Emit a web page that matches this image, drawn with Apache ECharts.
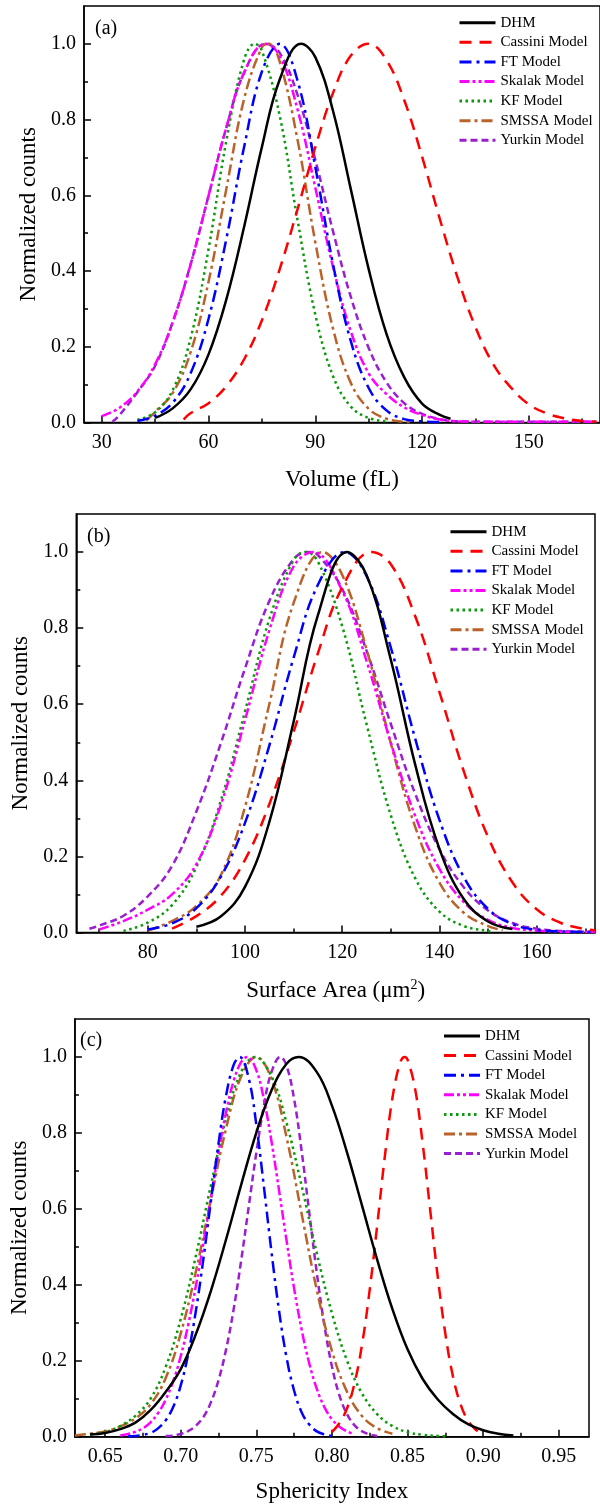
<!DOCTYPE html>
<html>
<head>
<meta charset="utf-8">
<script src="https://cdn.jsdelivr.net/npm/echarts@6/dist/echarts.min.js"></script>
<style>
  html, body { margin: 0; padding: 0; background: #fff; }
  #chart { width: 600px; height: 1508px; }
</style>
</head>
<body>
<div id="chart"></div>
<script>
var FONT = '"Liberation Serif", "Times New Roman", serif';

var seriesNames = ['DHM', 'Cassini Model', 'FT Model', 'Skalak Model', 'KF Model', 'SMSSA Model', 'Yurkin Model'];

// (a) Volume (fL)
var volDHM = [[45,0.012],[50,0.038],[55,0.088],[60,0.18],[65,0.325],[70,0.517],[75,0.728],[80,0.906],[86,1.0],[90,0.965],[95,0.822],[100,0.615],[105,0.405],[110,0.234],[115,0.119],[120,0.05],[125,0.02],[128,0.01]];
var volCassini = [[53,0.008],[55,0.025],[60,0.051],[65,0.096],[70,0.167],[75,0.27],[80,0.405],[85,0.563],[90,0.727],[95,0.871],[100,0.969],[105,1.0],[110,0.957],[115,0.851],[120,0.702],[125,0.537],[130,0.382],[135,0.252],[140,0.154],[145,0.092],[150,0.048],[155,0.024],[160,0.011],[165,0.004],[169,0.002]];
var volFT = [[40,0.004],[45,0.018],[50,0.053],[55,0.131],[60,0.274],[65,0.485],[70,0.728],[75,0.927],[80,1.0],[85,0.903],[90,0.675],[95,0.417],[100,0.214],[105,0.091],[110,0.032],[115,0.009],[120,0.003],[125,0.001]];
var volSkalak = [[30,0.017],[35,0.039],[40,0.082],[45,0.154],[50,0.267],[55,0.419],[60,0.599],[65,0.779],[70,0.924],[76,1.0],[80,0.968],[85,0.827],[90,0.62],[95,0.41],[100,0.24],[105,0.13],[110,0.075],[115,0.04],[120,0.02],[125,0.008],[130,0.003],[140,0.002],[169,0.002]];
var volKF = [[40,0.007],[45,0.027],[50,0.087],[55,0.224],[60,0.458],[65,0.744],[70,0.959],[73,1.0],[75,0.982],[80,0.81],[85,0.535],[90,0.285],[95,0.122],[100,0.042],[105,0.012],[110,0.003]];
var volSMSSA = [[42.5,0.005],[45,0.028],[50,0.079],[55,0.187],[60,0.372],[65,0.617],[70,0.855],[75,0.991],[77,1.0],[80,0.953],[85,0.747],[90,0.476],[95,0.247],[100,0.104],[105,0.036],[110,0.01],[115,0.002],[117,0.001]];
var volYurkin = [[33,0.002],[35,0.02],[40,0.08],[45,0.15],[50,0.267],[55,0.419],[60,0.599],[65,0.779],[70,0.924],[76,1.0],[80,0.976],[85,0.865],[90,0.694],[95,0.504],[100,0.331],[105,0.197],[110,0.106],[115,0.051],[120,0.023],[125,0.009],[130,0.003],[140,0.002],[169,0.002]];

// (b) Surface Area (um^2)
var saDHM = [[90,0.015],[95,0.042],[100,0.12],[105,0.29],[110,0.554],[115,0.834],[121,1.0],[125,0.94],[130,0.717],[135,0.442],[140,0.22],[145,0.088],[150,0.029],[155,0.009]];
var saCassini = [[85,0.01],[90,0.043],[95,0.096],[100,0.191],[105,0.337],[110,0.527],[115,0.734],[120,0.907],[126,1.0],[130,0.968],[135,0.832],[140,0.632],[145,0.424],[150,0.251],[155,0.132],[160,0.061],[165,0.025],[170,0.009],[172,0.006]];
var saFT = [[80,0.008],[85,0.024],[90,0.064],[95,0.146],[100,0.288],[105,0.491],[110,0.722],[115,0.914],[120.5,1.0],[125,0.937],[130,0.749],[135,0.51],[140,0.296],[145,0.146],[150,0.062],[155,0.022],[160,0.007],[165,0.003],[172,0.001]];
var saSkalak = [[70,0.008],[75,0.03],[80,0.06],[85,0.1],[90,0.18],[95,0.334],[100,0.558],[105,0.794],[110,0.962],[114,1.0],[120,0.898],[125,0.714],[130,0.499],[135,0.307],[140,0.167],[145,0.08],[150,0.033],[155,0.012],[160,0.005],[165,0.002],[172,0.001]];
var saKF = [[75,0.004],[80,0.026],[85,0.072],[90,0.172],[95,0.345],[100,0.581],[105,0.823],[110,0.979],[112.5,1.0],[115,0.975],[120,0.805],[125,0.548],[130,0.308],[135,0.143],[140,0.055],[145,0.017],[150,0.004],[151,0.002]];
var saSMSSA = [[80,0.005],[85,0.03],[90,0.07],[95,0.15],[100,0.33],[105,0.6],[110,0.866],[116,1.0],[120,0.94],[125,0.745],[130,0.497],[135,0.278],[140,0.131],[145,0.052],[150,0.017],[153,0.006]];
var saYurkin = [[68,0.01],[70,0.018],[75,0.044],[80,0.095],[85,0.175],[90,0.318],[95,0.496],[100,0.694],[105,0.871],[110,0.981],[113,1.0],[115,0.992],[120,0.903],[125,0.741],[130,0.548],[135,0.365],[140,0.219],[145,0.119],[150,0.058],[155,0.025],[160,0.01],[165,0.004],[172,0.002]];

// (c) Sphericity Index
var siDHM = [[0.64,0.006],[0.65,0.01],[0.66,0.02],[0.67,0.037],[0.68,0.07],[0.69,0.118],[0.70,0.178],[0.71,0.27],[0.72,0.385],[0.73,0.52],[0.74,0.664],[0.75,0.801],[0.76,0.912],[0.77,0.982],[0.778,1.0],[0.79,0.96],[0.80,0.872],[0.81,0.748],[0.82,0.607],[0.83,0.465],[0.84,0.336],[0.85,0.23],[0.86,0.152],[0.87,0.098],[0.88,0.06],[0.89,0.033],[0.90,0.017],[0.91,0.008],[0.92,0.003]];
var siCassini = [[0.80,0.012],[0.805,0.036],[0.81,0.075],[0.815,0.142],[0.82,0.245],[0.825,0.388],[0.83,0.559],[0.835,0.739],[0.84,0.892],[0.845,0.984],[0.848,1.0],[0.85,0.993],[0.855,0.916],[0.86,0.772],[0.865,0.596],[0.87,0.42],[0.875,0.271],[0.88,0.159],[0.885,0.086],[0.89,0.042],[0.895,0.019],[0.90,0.005]];
var siFT = [[0.665,0.001],[0.67,0.002],[0.675,0.005],[0.68,0.01],[0.685,0.022],[0.69,0.043],[0.695,0.078],[0.70,0.135],[0.705,0.219],[0.71,0.331],[0.715,0.469],[0.72,0.622],[0.725,0.773],[0.73,0.899],[0.735,0.979],[0.739,1.0],[0.745,0.943],[0.75,0.821],[0.755,0.658],[0.76,0.487],[0.765,0.332],[0.77,0.208],[0.775,0.121],[0.78,0.064],[0.785,0.032],[0.79,0.014],[0.795,0.006],[0.80,0.002]];
var siSkalak = [[0.66,0.003],[0.665,0.007],[0.67,0.013],[0.675,0.022],[0.68,0.038],[0.685,0.062],[0.69,0.097],[0.695,0.146],[0.70,0.212],[0.705,0.296],[0.71,0.397],[0.715,0.51],[0.72,0.631],[0.725,0.749],[0.73,0.855],[0.735,0.937],[0.74,0.987],[0.744,1.0],[0.75,0.965],[0.755,0.888],[0.76,0.778],[0.765,0.649],[0.77,0.516],[0.775,0.39],[0.78,0.281],[0.785,0.193],[0.79,0.126],[0.795,0.078],[0.80,0.046],[0.805,0.026],[0.81,0.014],[0.815,0.006]];
var siKF = [[0.64,0.006],[0.65,0.012],[0.66,0.028],[0.67,0.055],[0.68,0.1],[0.69,0.183],[0.70,0.31],[0.71,0.476],[0.72,0.663],[0.73,0.838],[0.74,0.961],[0.749,1.0],[0.76,0.949],[0.77,0.826],[0.78,0.66],[0.79,0.483],[0.80,0.325],[0.81,0.2],[0.82,0.113],[0.83,0.059],[0.84,0.028],[0.85,0.012],[0.86,0.005],[0.87,0.002],[0.877,0.001]];
var siSMSSA = [[0.63,0.003],[0.64,0.008],[0.65,0.014],[0.66,0.027],[0.67,0.048],[0.68,0.085],[0.69,0.154],[0.70,0.272],[0.71,0.435],[0.72,0.626],[0.73,0.812],[0.74,0.949],[0.75,1.0],[0.76,0.942],[0.77,0.788],[0.78,0.586],[0.79,0.386],[0.80,0.226],[0.81,0.118],[0.82,0.054],[0.83,0.022],[0.84,0.008]];
var siYurkin = [[0.69,0.002],[0.695,0.003],[0.70,0.007],[0.705,0.015],[0.71,0.029],[0.715,0.052],[0.72,0.091],[0.725,0.149],[0.73,0.23],[0.735,0.336],[0.74,0.465],[0.745,0.607],[0.75,0.748],[0.755,0.872],[0.76,0.96],[0.766,1.0],[0.77,0.977],[0.775,0.889],[0.78,0.751],[0.785,0.59],[0.79,0.431],[0.795,0.293],[0.80,0.185],[0.805,0.108],[0.81,0.059],[0.815,0.03],[0.82,0.014],[0.825,0.006],[0.83,0.002]];

// ticks
var volTicks = [30, 60, 90, 120, 150];
var volMinor = [45, 75, 105, 135, 165];
var saTicks = [80, 100, 120, 140, 160];
var saMinor = [70, 90, 110, 130, 150, 170];
var siTicks = [0.65, 0.70, 0.75, 0.80, 0.85, 0.90, 0.95];
var siMinor = [0.675, 0.725, 0.775, 0.825, 0.875, 0.925];
var countTicks = [0, 0.2, 0.4, 0.6, 0.8, 1.0];
var countMinor = [0.1, 0.3, 0.5, 0.7, 0.9];

var colors = ['#000000', '#ff0000', '#0000ff', '#ff00ff', '#0a9a0a', '#b9632a', '#9a1fd0'];
var dashes = ['solid', [12, 8], [12, 5, 3, 5], [10, 3, 3, 3, 3, 3], [2.5, 3.5], [11, 4, 3, 4], [7, 4]];

var chart = echarts.init(document.getElementById('chart'), null, { renderer: 'canvas' });

function xPair(gi, min, max, ticks, minor, digits, name, gap, rich) {
  return [{
    type: 'value', gridIndex: gi, min: min, max: max, position: 'bottom',
    axisLine: { onZero: false, lineStyle: { color: '#000', width: 1.5 } },
    axisTick: { inside: true, length: 7, customValues: ticks, lineStyle: { color: '#000', width: 1.5 } },
    axisLabel: { customValues: ticks, margin: 10, color: '#000', fontFamily: FONT, fontSize: 20,
      formatter: function (v) { return v.toFixed(digits); } },
    splitLine: { show: false },
    name: name, nameLocation: 'middle', nameGap: gap,
    nameTextStyle: { color: '#000', fontFamily: FONT, fontSize: 23, rich: rich || {} }
  }, {
    type: 'value', gridIndex: gi, min: min, max: max, position: 'bottom',
    axisLine: { show: false },
    axisTick: { inside: true, length: 4, customValues: minor, lineStyle: { color: '#000', width: 1.5 } },
    axisLabel: { show: false },
    splitLine: { show: false }
  }];
}

function yPair(gi, gap) {
  return [{
    type: 'value', gridIndex: gi, min: 0, max: 1.1, position: 'left',
    axisLine: { onZero: false, lineStyle: { color: '#000', width: 1.5 } },
    axisTick: { inside: true, length: 7, customValues: countTicks, lineStyle: { color: '#000', width: 1.5 } },
    axisLabel: { customValues: countTicks, margin: 8, color: '#000', fontFamily: FONT, fontSize: 20,
      formatter: function (v) { return v.toFixed(1); } },
    splitLine: { show: false },
    name: 'Normalized counts', nameLocation: 'middle', nameGap: gap,
    nameTextStyle: { color: '#000', fontFamily: FONT, fontSize: 23 }
  }, {
    type: 'value', gridIndex: gi, min: 0, max: 1.1, position: 'left',
    axisLine: { show: false },
    axisTick: { inside: true, length: 4, customValues: countMinor, lineStyle: { color: '#000', width: 1.5 } },
    axisLabel: { show: false },
    splitLine: { show: false }
  }];
}

function makeSeries(list, axisIdx) {
  return list.map(function (d, i) {
    return {
      name: seriesNames[i], type: 'line', data: d,
      xAxisIndex: axisIdx, yAxisIndex: axisIdx,
      smooth: 0.4, symbol: 'none', silent: true, animation: false,
      lineStyle: { color: colors[i], width: 2.5, type: dashes[i] },
      itemStyle: { color: colors[i] },
      z: 10 - i
    };
  });
}

function legendAt(left, top) {
  return {
    orient: 'vertical', left: left, top: top, padding: 0,
    itemWidth: 36, itemHeight: 14, itemGap: 4.6,
    selectedMode: false, data: seriesNames,
    itemStyle: { opacity: 0 },
    lineStyle: { width: 3 },
    textStyle: { color: '#000', fontFamily: FONT, fontSize: 15 }
  };
}

var supRich = { sup: { fontSize: 14, fontFamily: FONT, color: '#000', padding: [0, 0, 10, 0] } };

var gridStyle = { show: true, borderColor: '#000', borderWidth: 1.5, backgroundColor: 'transparent', containLabel: false };

var option = {
  backgroundColor: '#ffffff',
  animation: false,
  grid: [
    Object.assign({ left: 84, top: 6, right: -4, height: 416.5 }, gridStyle),
    Object.assign({ left: 76.3, top: 514, right: 5, height: 418.5 }, gridStyle),
    Object.assign({ left: 69.3, top: 1019, right: 11, height: 417.7 }, gridStyle)
  ],
  xAxis: []
    .concat(xPair(0, 25, 170, volTicks, volMinor, 0, 'Volume (fL)', 46))
    .concat(xPair(1, 65.3, 172, saTicks, saMinor, 0, 'Surface Area (\u03bcm{sup|2})', 46, supRich))
    .concat(xPair(2, 0.63, 0.97, siTicks, siMinor, 2, 'Sphericity Index', 43.5)),
  yAxis: []
    .concat(yPair(0, 42.5))
    .concat(yPair(1, 42.4))
    .concat(yPair(2, 41.8)),
  legend: [
    legendAt(458, 15.2),
    legendAt(449, 524.2),
    legendAt(442.5, 1028.5)
  ],
  graphic: [
    { type: 'text', left: 95, top: 19, style: { text: '(a)', font: '20px ' + FONT, fill: '#000' } },
    { type: 'text', left: 87, top: 527, style: { text: '(b)', font: '20px ' + FONT, fill: '#000' } },
    { type: 'text', left: 80, top: 1031, style: { text: '(c)', font: '20px ' + FONT, fill: '#000' } }
  ],
  series: []
    .concat(makeSeries([volDHM, volCassini, volFT, volSkalak, volKF, volSMSSA, volYurkin], 0))
    .concat(makeSeries([saDHM, saCassini, saFT, saSkalak, saKF, saSMSSA, saYurkin], 2))
    .concat(makeSeries([siDHM, siCassini, siFT, siSkalak, siKF, siSMSSA, siYurkin], 4))
};

chart.setOption(option);
</script>
</body>
</html>
